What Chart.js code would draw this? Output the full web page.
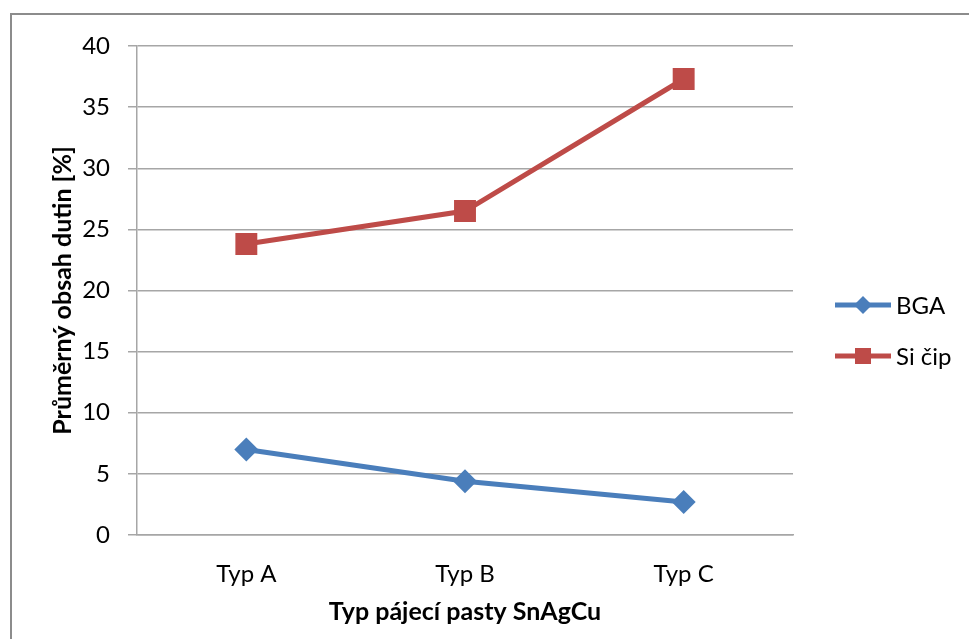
<!DOCTYPE html>
<html>
<head>
<meta charset="utf-8">
<script src="https://cdn.jsdelivr.net/npm/chart.js@4/dist/chart.umd.min.js"></script>
<style>
  body { margin: 0; background: #fff; }
  #wrap { position: relative; width: 969px; height: 639px; overflow: hidden; }
  #frame { position: absolute; left: 10px; top: 13px; width: 980px; height: 660px; border: 2px solid #8c8c8c; box-sizing: border-box; }
  canvas { position: absolute; left: 0; top: 0; }
</style>
</head>
<body>
<div id="wrap">
  <div id="frame"></div>
  <canvas id="c" width="969" height="639"></canvas>
</div>
<script>
const categories = ['Typ A', 'Typ B', 'Typ C'];
const bgaValues = [7.0, 4.4, 2.7];
const siValues = [23.8, 26.5, 37.3];
const yTicks = [0, 5, 10, 15, 20, 25, 30, 35, 40];

const FONT = 'Lato, "Open Sans", sans-serif';
const gridColor = '#a6a6a6';

// legend drawn by hand so the line + marker sample looks like the original
const sideLegend = {
  id: 'sideLegend',
  afterDraw(chart) {
    const ctx = chart.ctx;
    const rows = [
      { label: 'BGA', color: '#4a7ebb', shape: 'diamond', y: 305 },
      { label: 'Si čip', color: '#be4b48', shape: 'square', y: 356 }
    ];
    ctx.save();
    rows.forEach(r => {
      ctx.strokeStyle = r.color;
      ctx.lineWidth = 5;
      ctx.beginPath();
      ctx.moveTo(835, r.y);
      ctx.lineTo(891, r.y);
      ctx.stroke();
      ctx.fillStyle = r.color;
      ctx.beginPath();
      if (r.shape === 'diamond') {
        ctx.moveTo(863, r.y - 9);
        ctx.lineTo(872, r.y);
        ctx.lineTo(863, r.y + 9);
        ctx.lineTo(854, r.y);
      } else {
        ctx.rect(855, r.y - 8, 16, 16);
      }
      ctx.closePath();
      ctx.fill();
      ctx.fillStyle = '#000';
      ctx.font = '24px ' + FONT;
      ctx.textAlign = 'left';
      ctx.textBaseline = 'middle';
      ctx.fillText(r.label, 896, r.y + 1);
    });
    ctx.restore();
  }
};

new Chart(document.getElementById('c'), {
  type: 'line',
  data: {
    labels: categories,
    datasets: [
      {
        label: 'BGA',
        data: bgaValues,
        borderColor: '#4a7ebb',
        backgroundColor: '#4a7ebb',
        borderWidth: 5,
        pointStyle: 'rectRot',
        pointRadius: 12,
        pointBorderWidth: 0,
        tension: 0
      },
      {
        label: 'Si čip',
        data: siValues,
        borderColor: '#be4b48',
        backgroundColor: '#be4b48',
        borderWidth: 5,
        pointStyle: 'rect',
        pointRadius: 15.5,
        pointBorderWidth: 0,
        tension: 0
      }
    ]
  },
  options: {
    responsive: false,
    animation: false,
    layout: { padding: { left: 0, top: 46, right: 176, bottom: 0 } },
    plugins: {
      legend: { display: false },
      tooltip: { enabled: false }
    },
    scales: {
      x: {
        offset: true,
        grid: { display: false },
        border: { display: true, color: gridColor, width: 1.5 },
        ticks: { color: '#000', font: { family: FONT, size: 24 }, padding: 17 },
        title: {
          display: true,
          text: 'Typ pájecí pasty SnAgCu',
          color: '#000',
          font: { family: FONT, size: 25, weight: 'bold' },
          padding: { top: 0, bottom: 12 }
        },
        afterFit: s => { s.height = 104; }
      },
      y: {
        min: 0,
        max: 40,
        afterBuildTicks: s => { s.ticks = yTicks.map(v => ({ value: v })); },
        grid: { color: gridColor, lineWidth: 1.5, tickLength: 9 },
        border: { display: true, color: gridColor, width: 1.5 },
        ticks: { color: '#000', font: { family: FONT, size: 24 }, padding: 18 },
        title: {
          display: true,
          text: 'Průměrný obsah dutin [%]',
          color: '#000',
          font: { family: FONT, size: 25, weight: 'bold' },
          padding: { top: 48, bottom: 0 }
        },
        afterFit: s => { s.width = 137; }
      }
    }
  },
  plugins: [sideLegend]
});
</script>
</body>
</html>
